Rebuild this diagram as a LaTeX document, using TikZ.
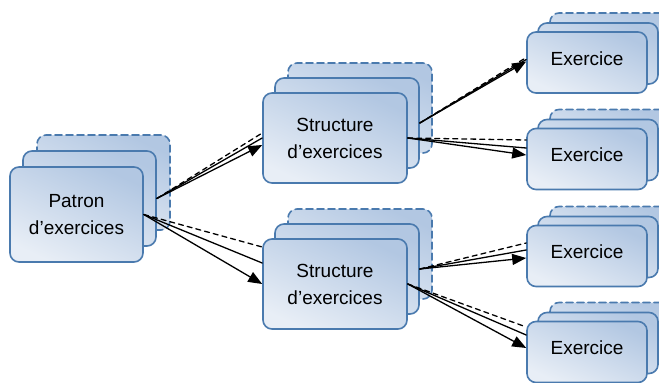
\documentclass[tikz,border=0pt]{standalone}
\usepackage{fontspec}
\setmainfont{Liberation Sans}
\usetikzlibrary{arrows.meta,positioning}

\definecolor{pileborder}{HTML}{4A7AAE}
\definecolor{piletop}{HTML}{B2C7E2}
\definecolor{pilebot}{HTML}{E8EEF6}

\tikzset{
  pile/.style={draw=pileborder, line width=1.6pt, rounded corners=9pt,
    top color=piletop, bottom color=pilebot, shading angle=-25,
    align=center, inner sep=0pt, font=\fontsize{19}{27}\selectfont},
  pileback/.style={pile, dash pattern=on 7pt off 4pt},
  patronbox/.style={minimum width=133pt, minimum height=95pt},
  structbox/.style={minimum width=144pt, minimum height=90pt},
  exobox/.style={minimum width=120pt, minimum height=61pt, text depth=8pt},
  lien/.style={line width=1.3pt},
}

\begin{document}
\begin{tikzpicture}[x=1pt,y=-1pt,line cap=round,>={Triangle[length=14pt,width=11pt]}]
    \useasboundingbox (0,0) rectangle (659,383);

    % patron
    \coordinate (p) at (76.5,214.5);
    \node[pileback,patronbox] (patron-b) at ([shift={(27,-32)}]p) {};
    \node[pile,patronbox] (patron-m) at ([shift={(13,-16)}]p) {};
    \node[pile,patronbox] (patron) at (p) {Patron\\d’exercices};

    % structures
    \foreach \i/\y in {1/138,2/284}{
        \coordinate (s) at (335,\y);
        \node[pileback,structbox] (st\i-b) at ([shift={(25,-30)}]s) {};
        \node[pile,structbox] (st\i-m) at ([shift={(12,-15)}]s) {};
        \node[pile,structbox] (st\i) at (s) {Structure\\d’exercices};
    }

    % exercices
    \foreach \i/\y in {1/62.5,2/159,3/256,4/352}{
        \coordinate (e) at (587,\y);
        \node[pileback,exobox] (ex\i-b) at ([shift={(23,-19)}]e) {};
        \node[pile,exobox] (ex\i-m) at ([shift={(11,-9)}]e) {};
        \node[pile,exobox] (ex\i) at (e) {Exercice};
    }

    % liens
    \foreach \s/\t/\a/\b/\c in {patron-m/st1/5/0/-7, patron/st2/37/21/0,
        st1-m/ex1/5/3/1, st1/ex2/19/11/4, st2-m/ex3/13/6/-2, st2/ex4/25/17/4}{
        \draw[lien,dash pattern=on 5pt off 4pt] (\s.east) -- ([yshift=\a pt]\t.west);
        \draw[lien] (\s.east) -- ([yshift=\b pt]\t.west);
        \draw[lien,->] (\s.east) -- ([yshift=\c pt]\t.west);
    }
\end{tikzpicture}
\end{document}
